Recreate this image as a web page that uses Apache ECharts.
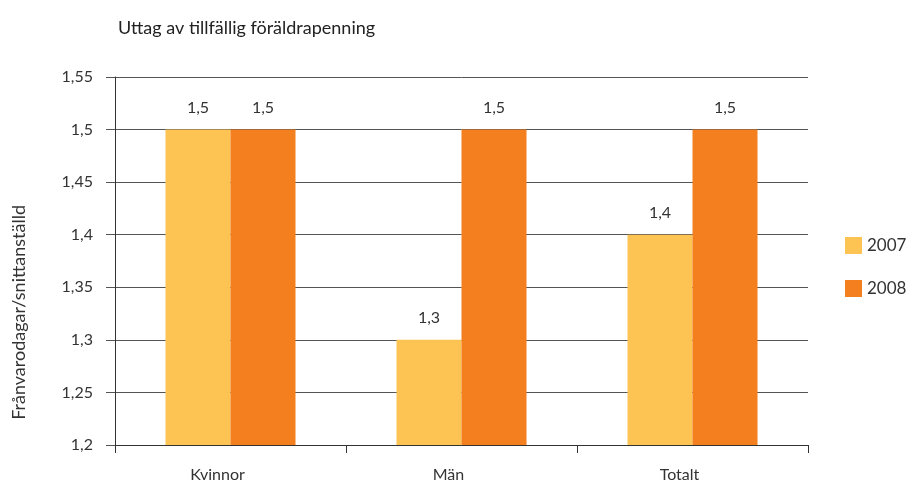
<!DOCTYPE html>
<html>
<head>
<meta charset="utf-8">
<script src="https://cdn.jsdelivr.net/npm/echarts@6/dist/echarts.min.js"></script>
<style>
  html, body { margin: 0; padding: 0; background: #fff; }
  #chart { width: 910px; height: 483px; }
</style>
</head>
<body>
<div id="chart"></div>
<script>
const categories = ["Kvinnor", "Män", "Totalt"];
const values2007 = [1.5, 1.3, 1.4];
const values2008 = [1.5, 1.5, 1.5];

// 1.5 -> "1,5"
function sv(v) {
  return String(Math.round(v * 100) / 100).replace(".", ",");
}

const font = "Lato";
const txt = "#333";

const ec = echarts.init(document.getElementById("chart"));
ec.setOption({
  animation: false,
  textStyle: { fontFamily: font },
  title: {
    text: "Uttag av tillfällig föräldrapenning",
    left: 113,
    top: 14,
    textStyle: { fontSize: 18, fontWeight: "normal", color: "#222", fontFamily: font }
  },
  legend: {
    orient: "vertical",
    left: 840,
    top: 232,
    itemWidth: 17,
    itemHeight: 17,
    itemGap: 26,
    icon: "rect",
    textStyle: { fontSize: 17, color: txt, fontFamily: font }
  },
  grid: { left: 115, right: 102, top: 77, bottom: 38 },
  xAxis: {
    type: "category",
    data: categories,
    axisLine: { lineStyle: { color: "#333" } },
    axisTick: { show: true, length: 8, lineStyle: { color: "#333" } },
    axisLabel: { color: txt, fontSize: 16, margin: 22, padding: [0, 26, 0, 0] }
  },
  yAxis: {
    type: "value",
    min: 1.2,
    max: 1.55,
    interval: 0.05,
    axisLine: { show: true, lineStyle: { color: "#333" } },
    axisTick: { show: true, length: 9, lineStyle: { color: "#555" } },
    splitLine: { lineStyle: { color: "#555" } },
    axisLabel: { color: txt, fontSize: 16, margin: 22, formatter: sv }
  },
  graphic: [{
    type: "text",
    left: 10,
    top: 205,
    style: {
      text: "Frånvarodagar/snittanställd",
      fontSize: 18,
      fill: txt,
      fontFamily: font
    }
  }],
  series: [
    {
      name: "2007",
      type: "bar",
      data: values2007,
      barWidth: 65,
      barGap: "0%",
      itemStyle: { color: "#FDC453" },
      label: { show: true, position: "top", distance: 14, fontSize: 16, color: txt, formatter: p => sv(p.value) }
    },
    {
      name: "2008",
      type: "bar",
      data: values2008,
      barWidth: 65,
      barGap: "0%",
      itemStyle: { color: "#F47F1F" },
      label: { show: true, position: "top", distance: 14, fontSize: 16, color: txt, formatter: p => sv(p.value) }
    }
  ]
});
// rotate the axis name to read bottom-to-top
ec.setOption({ graphic: [{ rotation: Math.PI / 2 }] });
</script>
</body>
</html>
